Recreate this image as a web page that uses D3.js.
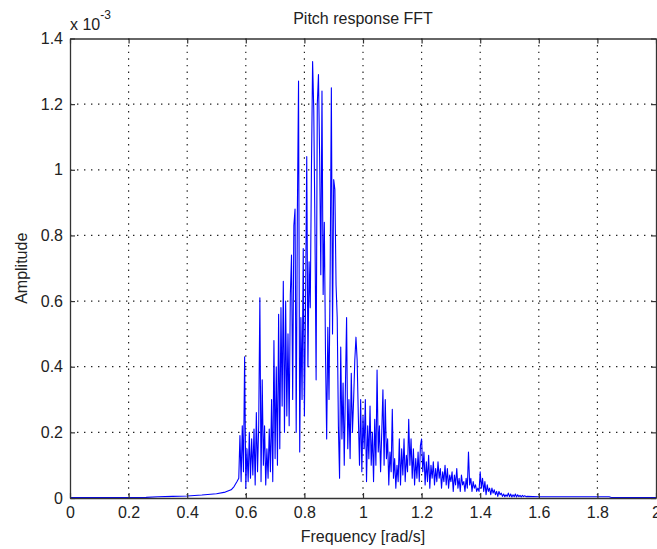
<!DOCTYPE html>
<html>
<head>
<meta charset="utf-8">
<script src="https://cdn.jsdelivr.net/npm/d3@7"></script>
<style>
  body { margin: 0; background: #fff; }
  svg { display: block; font-family: Arial, 'Liberation Sans', sans-serif; }
</style>
</head>
<body>
<div id="chart"></div>
<script>
// amplitudes are in units of 1e-3 (the axis shows "x 10^-3")
const headFreq = [0, 0.1, 0.2, 0.26, 0.3, 0.35, 0.4, 0.45, 0.5, 0.53, 0.55, 0.56, 0.57]
const headAmp = [0.001, 0.001, 0.001, 0.002, 0.004, 0.005, 0.006, 0.009, 0.013, 0.018, 0.025, 0.035, 0.05]

// FFT bins from 0.576 rad/s, spaced 0.004 rad/s, ten per row
const binStart = 0.576
const binStep = 0.004
const binAmp = [
  0.06, 0.19, 0.05, 0.22, 0.08, 0.43, 0.03, 0.15, 0.05, 0.20,
  0.06, 0.18, 0.07, 0.21, 0.04, 0.26, 0.08, 0.22, 0.61, 0.05,
  0.36, 0.10, 0.22, 0.04, 0.15, 0.06, 0.21, 0.08, 0.30, 0.05,
  0.48, 0.12, 0.40, 0.10, 0.56, 0.15, 0.58, 0.28, 0.66, 0.20,
  0.60, 0.25, 0.50, 0.22, 0.62, 0.74, 0.30, 0.83, 0.88, 0.20,
  0.87, 1.27, 0.14, 0.55, 0.30, 0.76, 0.25, 0.60, 1.04, 0.40,
  0.72, 0.58, 1.00, 1.33, 1.18, 0.82, 0.36, 1.20, 1.29, 1.04,
  0.68, 1.24, 0.62, 0.84, 0.44, 0.18, 0.52, 0.30, 0.70, 1.25,
  0.50, 0.97, 0.94, 0.65, 0.55, 0.22, 0.06, 0.46, 0.18, 0.35,
  0.10, 0.34, 0.55, 0.15, 0.30, 0.12, 0.38, 0.20, 0.30, 0.42,
  0.49, 0.42, 0.25, 0.10, 0.30, 0.08, 0.25, 0.15, 0.30, 0.05,
  0.22, 0.12, 0.28, 0.10, 0.20, 0.05, 0.24, 0.10, 0.39, 0.14,
  0.22, 0.08, 0.20, 0.33, 0.10, 0.30, 0.12, 0.18, 0.04, 0.14,
  0.08, 0.27, 0.06, 0.12, 0.03, 0.10, 0.05, 0.18, 0.04, 0.15,
  0.07, 0.18, 0.05, 0.13, 0.08, 0.24, 0.10, 0.18, 0.06, 0.15,
  0.04, 0.12, 0.06, 0.14, 0.05, 0.16, 0.18, 0.08, 0.14, 0.04,
  0.11, 0.05, 0.13, 0.03, 0.10, 0.06, 0.11, 0.04, 0.09, 0.05,
  0.11, 0.06, 0.09, 0.03, 0.08, 0.05, 0.10, 0.04, 0.09, 0.03,
  0.07, 0.05, 0.08, 0.02, 0.07, 0.04, 0.09, 0.03, 0.06, 0.02,
  0.07, 0.04, 0.05, 0.02, 0.06, 0.03, 0.14, 0.04, 0.06, 0.02,
  0.05, 0.03, 0.04, 0.02, 0.03, 0.02, 0.08, 0.03, 0.06, 0.02,
  0.05, 0.01, 0.04, 0.02, 0.03, 0.01, 0.03, 0.015, 0.025, 0.01,
  0.02, 0.005, 0.02, 0.01, 0.015, 0.005, 0.012, 0.004, 0.01, 0.005,
  0.015, 0.004, 0.012, 0.003, 0.01, 0.004, 0.012, 0.003, 0.01, 0.004,
  0.008, 0.003, 0.008, 0.004, 0.007, 0.004
]

const tailFreq = [1.56, 1.6, 1.7, 1.84, 1.85, 2.0]
const tailAmp = [0.005, 0.004, 0.004, 0.004, 0.001, 0.001]

const xTicks = [0, 0.2, 0.4, 0.6, 0.8, 1, 1.2, 1.4, 1.6, 1.8, 2]
const yTicks = [0, 0.2, 0.4, 0.6, 0.8, 1, 1.2, 1.4]

const points = []
headFreq.forEach((f, i) => points.push([f, headAmp[i]]))
binAmp.forEach((a, i) => points.push([binStart + i * binStep, a]))
tailFreq.forEach((f, i) => points.push([f, tailAmp[i]]))

const width = 657
const height = 549
const margin = { top: 38.5, right: 1, bottom: 51, left: 70 }

const svg = d3.select('#chart').append('svg')
  .attr('width', width)
  .attr('height', height)

const x = d3.scaleLinear().domain([0, 2]).range([margin.left, width - margin.right])
const y = d3.scaleLinear().domain([0, 1.4]).range([height - margin.bottom, margin.top])

const textColor = '#222'
const fmt = d => d3.format('')(+d.toFixed(1))

// dotted grid
svg.append('g')
  .selectAll('line')
  .data(xTicks.slice(1, -1))
  .join('line')
  .attr('x1', d => x(d)).attr('x2', d => x(d))
  .attr('y1', y(1.4)).attr('y2', y(0))
  .attr('stroke', '#222')
  .attr('stroke-width', 1.2)
  .attr('stroke-dasharray', '1.4 5.2')

svg.append('g')
  .selectAll('line')
  .data(yTicks.slice(1, -1))
  .join('line')
  .attr('x1', x(0)).attr('x2', x(2))
  .attr('y1', d => y(d)).attr('y2', d => y(d))
  .attr('stroke', '#222')
  .attr('stroke-width', 1.2)
  .attr('stroke-dasharray', '1.4 5.6')

// the spectrum
const line = d3.line().x(d => x(d[0])).y(d => y(d[1]))
svg.append('path')
  .datum(points)
  .attr('fill', 'none')
  .attr('stroke', '#0000ff')
  .attr('stroke-width', 1.1)
  .attr('stroke-linejoin', 'round')
  .attr('d', line)

// axes, ticks pointing inward like matlab
function styleAxis(g) {
  g.select('.domain').attr('stroke', '#333').attr('stroke-width', 1.3)
  g.selectAll('.tick line').attr('stroke', '#333').attr('stroke-width', 1.2)
  g.selectAll('text').attr('fill', textColor).attr('font-size', 16)
}

svg.append('g')
  .attr('transform', `translate(0,${y(0)})`)
  .call(d3.axisBottom(x).tickValues(xTicks).tickFormat(fmt).tickSizeInner(-5).tickSizeOuter(0).tickPadding(9))
  .call(styleAxis)

svg.append('g')
  .attr('transform', `translate(0,${y(1.4)})`)
  .call(d3.axisTop(x).tickValues(xTicks).tickFormat('').tickSizeInner(-5).tickSizeOuter(0))
  .call(styleAxis)

svg.append('g')
  .attr('transform', `translate(${x(0)},0)`)
  .call(d3.axisLeft(y).tickValues(yTicks).tickFormat(fmt).tickSizeInner(-5).tickSizeOuter(0).tickPadding(7))
  .call(styleAxis)

svg.append('g')
  .attr('transform', `translate(${x(2)},0)`)
  .call(d3.axisRight(y).tickValues(yTicks).tickFormat('').tickSizeInner(-5).tickSizeOuter(0))
  .call(styleAxis)

// title and labels
svg.append('text')
  .attr('x', (x(0) + x(2)) / 2)
  .attr('y', 24)
  .attr('text-anchor', 'middle')
  .attr('font-size', 16)
  .attr('fill', textColor)
  .text('Pitch response FFT')

svg.append('text')
  .attr('x', (x(0) + x(2)) / 2)
  .attr('y', 542)
  .attr('text-anchor', 'middle')
  .attr('font-size', 16)
  .attr('fill', textColor)
  .text('Frequency [rad/s]')

svg.append('text')
  .attr('transform', `translate(27,${(y(0) + y(1.4)) / 2}) rotate(-90)`)
  .attr('text-anchor', 'middle')
  .attr('font-size', 16)
  .attr('fill', textColor)
  .text('Amplitude')

// exponent label
const expo = svg.append('text')
  .attr('x', 70)
  .attr('y', 30)
  .attr('font-size', 16)
  .attr('fill', textColor)
expo.append('tspan').text('x 10')
expo.append('tspan').attr('dy', -11).attr('font-size', 12).text('-3')
</script>
</body>
</html>
